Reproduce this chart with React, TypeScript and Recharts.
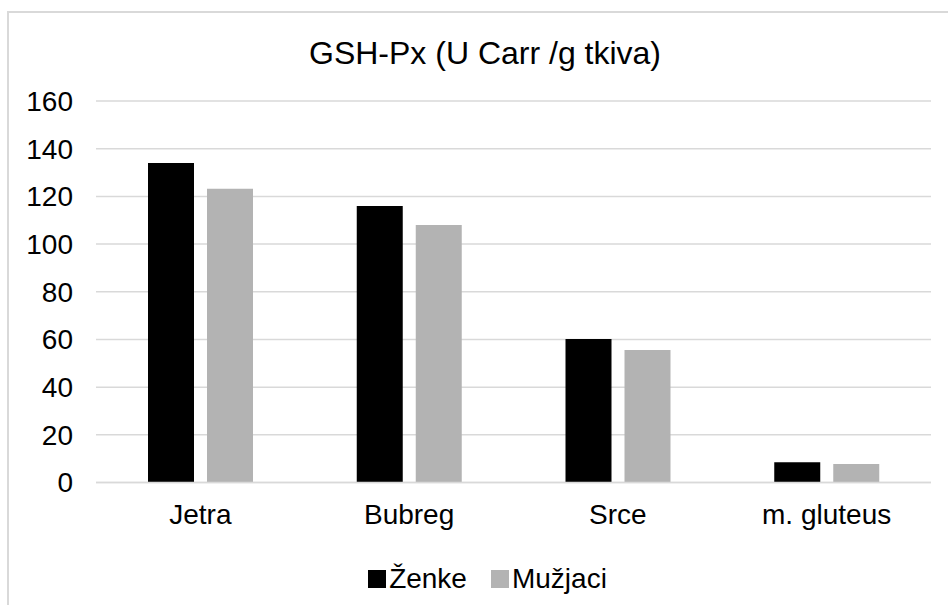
import React from 'react'
import { BarChart, Bar, XAxis, YAxis, CartesianGrid, Legend } from 'recharts'

const categories = ['Jetra', 'Bubreg', 'Srce', 'm. gluteus']
const zenke = [134, 116, 60.2, 8.5]
const muzjaci = [123.2, 108, 55.6, 7.8]
const yTicks = [0, 20, 40, 60, 80, 100, 120, 140, 160]
const seriesOrder = ['zenke', 'muzjaci']

const data = categories.map((name, i) => ({
    name,
    zenke: zenke[i],
    muzjaci: muzjaci[i],
}))

const font = '"Liberation Sans", Arial, sans-serif'

const LegendContent = (props: any) => {
    const items = [...(props.payload || [])].sort(
        (a: any, b: any) => seriesOrder.indexOf(a.dataKey) - seriesOrder.indexOf(b.dataKey)
    )
    return (
        <div
            style={{
                display: 'flex',
                justifyContent: 'center',
                alignItems: 'center',
                height: 32,
                paddingLeft: 27,
                fontFamily: font,
                fontSize: 28,
                color: '#000',
            }}
        >
            {items.map((it: any, i: number) => (
                <div
                    key={it.value}
                    style={{ display: 'flex', alignItems: 'center', marginLeft: i === 0 ? 0 : 24 }}
                >
                    <span style={{ width: 18, height: 18, background: it.color, marginRight: 3, display: 'inline-block' }} />
                    <span>{it.value}</span>
                </div>
            ))}
        </div>
    )
}

const App = () => {
    return (
        <div style={{ position: 'absolute', left: 0, top: 0, width: 948, height: 605, overflow: 'hidden', background: '#fff' }}>
            <div
                style={{
                    position: 'absolute',
                    left: 7,
                    top: 11,
                    width: 1000,
                    height: 700,
                    border: '2px solid #d9d9d9',
                }}
            />
            <div
                style={{
                    position: 'absolute',
                    left: 11,
                    top: 37,
                    width: 948,
                    textAlign: 'center',
                    fontFamily: font,
                    fontSize: 32,
                    lineHeight: '32px',
                    color: '#000',
                }}
            >
                GSH-Px (U Carr /g tkiva)
            </div>
            <div style={{ position: 'absolute', left: 0, top: 0 }}>
                <BarChart
                    width={948}
                    height={605}
                    data={data}
                    margin={{ top: 101, right: 17, left: 0, bottom: 92.5 }}
                    barSize={46}
                    barGap={13}
                >
                    <CartesianGrid vertical={false} stroke="#d9d9d9" strokeWidth={1.5} />
                    <XAxis
                        dataKey="name"
                        tickLine={false}
                        axisLine={{ stroke: '#d9d9d9', strokeWidth: 1.5 }}
                        tickMargin={16}
                        tick={{ fill: '#000', fontSize: 28, fontFamily: font }}
                    />
                    <YAxis
                        width={96}
                        domain={[0, 160]}
                        ticks={yTicks}
                        tickLine={false}
                        axisLine={false}
                        tickMargin={17}
                        tick={{ fill: '#000', fontSize: 28, fontFamily: font }}
                    />
                    <Legend
                        verticalAlign="middle"
                        align="center"
                        layout="horizontal"
                        wrapperStyle={{ top: 562.5, left: 0, width: 948 }}
                        content={LegendContent}
                    />
                    <Bar dataKey="zenke" name="Ženke" fill="#000000" isAnimationActive={false} />
                    <Bar dataKey="muzjaci" name="Mužjaci" fill="#b3b3b3" isAnimationActive={false} />
                </BarChart>
            </div>
        </div>
    )
}

export default App
